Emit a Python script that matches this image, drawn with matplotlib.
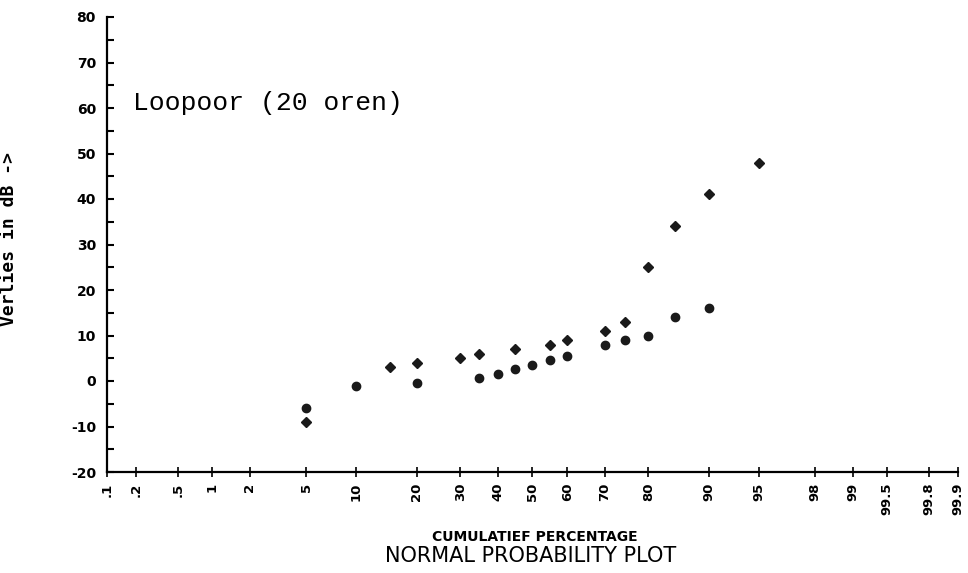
from statistics import NormalDist

import matplotlib
matplotlib.use("Agg")
import matplotlib.pyplot as plt
import numpy as np

plt.rcParams["axes.unicode_minus"] = False

# cumulative percentage (x) and loss in dB (y) for both series
diamond_pct = [5, 15, 20, 30, 35, 45, 55, 60, 70, 75, 80, 85, 90, 95]
diamond_db = [-9, 3, 4, 5, 6, 7, 8, 9, 11, 13, 25, 34, 41, 48]

circle_pct = [5, 10, 20, 35, 40, 45, 50, 55, 60, 70, 75, 80, 85, 90]
circle_db = [-6, -1, -0.5, 0.7, 1.6, 2.6, 3.6, 4.6, 5.6, 8, 9, 10, 14, 16]

prob_ticks = [0.1, 0.2, 0.5, 1, 2, 5, 10, 20, 30, 40, 50, 60, 70, 80, 90,
              95, 98, 99, 99.5, 99.8, 99.9]
prob_labels = [".1", ".2", ".5", "1", "2", "5", "10", "20", "30", "40", "50",
               "60", "70", "80", "90", "95", "98", "99", "99.5", "99.8", "99.9"]

_nd = NormalDist()


def pct_to_z(p):
    p = np.clip(np.asarray(p, dtype=float), 1e-4, 100 - 1e-4)
    return np.vectorize(lambda v: _nd.inv_cdf(v / 100.0), otypes=[float])(p)


def z_to_pct(z):
    z = np.asarray(z, dtype=float)
    return np.vectorize(lambda v: _nd.cdf(v) * 100.0, otypes=[float])(z)


fig = plt.figure(figsize=(9.68, 5.73), dpi=100)
fig.subplots_adjust(left=107 / 968, right=958 / 968,
                    bottom=1 - 472 / 573, top=1 - 17 / 573)
ax = fig.add_subplot(111)
ax.set_xscale("function", functions=(pct_to_z, z_to_pct))

ax.plot(diamond_pct, diamond_db, linestyle="none", marker="D",
        markersize=5, color="#1a1a1a")
ax.plot(circle_pct, circle_db, linestyle="none", marker="o",
        markersize=6, color="#1a1a1a")

ax.set_xlim(0.1, 99.9)
ax.set_ylim(-20, 80)

ax.set_xticks(prob_ticks)
ax.set_xticklabels(prob_labels, rotation=90, fontsize=9.5,
                   fontweight="bold", va="top")
ax.xaxis.set_minor_locator(matplotlib.ticker.NullLocator())
ax.set_yticks(np.arange(-20, 81, 10))
ax.set_yticks(np.arange(-15, 80, 10), minor=True)
for lbl in ax.get_yticklabels():
    lbl.set_fontsize(10)
    lbl.set_fontweight("bold")

ax.tick_params(axis="y", which="both", direction="in", length=5,
               width=1.5, pad=8)
ax.tick_params(axis="x", which="both", direction="inout", length=7,
               width=1.2, pad=4)

for side in ("top", "right"):
    ax.spines[side].set_visible(False)
for side in ("left", "bottom"):
    ax.spines[side].set_linewidth(1.6)

ax.text(0.031, 0.811, "Loopoor (20 oren)", transform=ax.transAxes,
        family="Liberation Mono", fontsize=19, va="center", ha="left")

ax.set_ylabel("Verlies in dB ->", family="DejaVu Sans Mono",
              fontweight="bold", fontsize=13)
ax.yaxis.set_label_coords(-0.105, 0.512)

fig.text(535 / 968, 1 - 537 / 573, "CUMULATIEF PERCENTAGE",
         ha="center", va="center", fontsize=10, fontweight="bold")
fig.text(531 / 968, 1 - 556 / 573, "NORMAL PROBABILITY PLOT",
         ha="center", va="center", fontsize=15)

fig.savefig("out.png", dpi=100)
